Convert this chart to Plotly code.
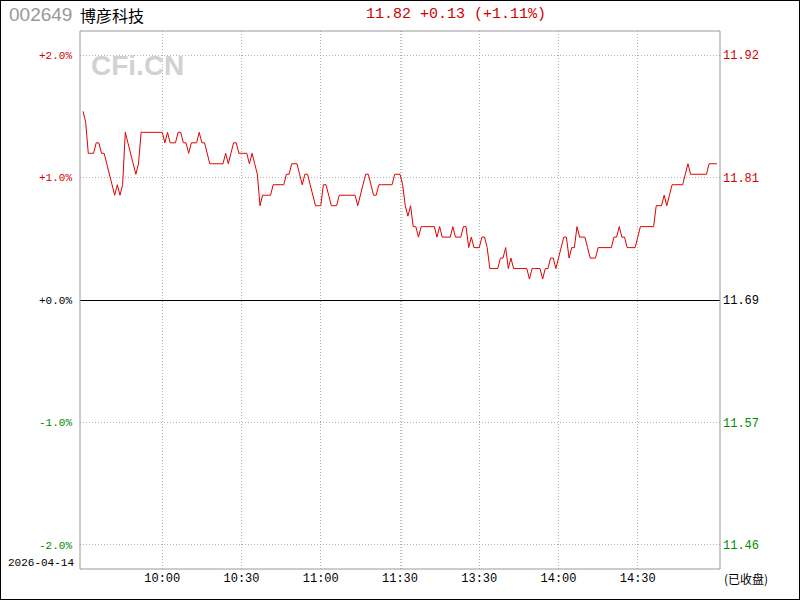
import plotly.graph_objects as go

# ---------------- data ----------------
stock_code = "002649"
stock_name = "博彦科技"
trade_date = "2026-04-14"
prev_close = 11.69
last_price = 11.82

# one price per minute: 09:30-11:30 (121 pts) then 13:01-15:00 (120 pts)
prices = [
    11.87, 11.86, 11.83, 11.83, 11.83, 11.84, 11.84, 11.83, 11.83, 11.82,
    11.81, 11.80, 11.79, 11.80, 11.79, 11.80, 11.85, 11.84, 11.83, 11.82,
    11.81, 11.82, 11.85, 11.85, 11.85, 11.85, 11.85, 11.85, 11.85, 11.85,
    11.85, 11.84, 11.85, 11.84, 11.84, 11.84, 11.85, 11.85, 11.84, 11.84,
    11.83, 11.84, 11.84, 11.84, 11.85, 11.84, 11.84, 11.83, 11.82, 11.82,
    11.82, 11.82, 11.82, 11.82, 11.83, 11.82, 11.83, 11.84, 11.84, 11.83,
    11.83, 11.83, 11.83, 11.82, 11.83, 11.82, 11.81, 11.78, 11.79, 11.79,
    11.79, 11.79, 11.80, 11.80, 11.80, 11.80, 11.80, 11.81, 11.81, 11.82,
    11.82, 11.82, 11.81, 11.80, 11.81, 11.81, 11.80, 11.79, 11.78, 11.78,
    11.78, 11.80, 11.80, 11.79, 11.78, 11.78, 11.78, 11.79, 11.79, 11.79,
    11.79, 11.79, 11.79, 11.79, 11.78, 11.79, 11.80, 11.81, 11.81, 11.80,
    11.79, 11.79, 11.80, 11.80, 11.80, 11.80, 11.80, 11.80, 11.81, 11.81,
    11.81, 11.80, 11.78, 11.77, 11.78, 11.76, 11.76, 11.75, 11.76, 11.76,
    11.76, 11.76, 11.76, 11.76, 11.75, 11.76, 11.75, 11.75, 11.75, 11.75,
    11.76, 11.75, 11.75, 11.75, 11.76, 11.76, 11.74, 11.75, 11.74, 11.74,
    11.74, 11.75, 11.75, 11.74, 11.72, 11.72, 11.72, 11.72, 11.73, 11.73,
    11.74, 11.72, 11.73, 11.72, 11.72, 11.72, 11.72, 11.72, 11.72, 11.71,
    11.72, 11.72, 11.72, 11.72, 11.71, 11.72, 11.72, 11.73, 11.73, 11.72,
    11.73, 11.74, 11.75, 11.75, 11.73, 11.74, 11.74, 11.76, 11.75, 11.75,
    11.75, 11.74, 11.73, 11.73, 11.73, 11.74, 11.74, 11.74, 11.74, 11.74,
    11.74, 11.75, 11.75, 11.76, 11.75, 11.75, 11.74, 11.74, 11.74, 11.74,
    11.75, 11.76, 11.76, 11.76, 11.76, 11.76, 11.76, 11.78, 11.78, 11.78,
    11.79, 11.78, 11.79, 11.80, 11.80, 11.80, 11.80, 11.80, 11.81, 11.82,
    11.81, 11.81, 11.81, 11.81, 11.81, 11.81, 11.81, 11.82, 11.82, 11.82,
    11.82,
]
minutes = list(range(len(prices)))

time_tick_pos = [30, 60, 90, 120, 150, 180, 210]
time_tick_labels = ["10:00", "10:30", "11:00", "11:30", "13:30", "14:00", "14:30"]

pct_ticks = [2, 1, 0, -1, -2]
pct_labels = ["+2.0%", "+1.0%", "+0.0%", "-1.0%", "-2.0%"]

# ---------------- derived ----------------
pct = [(p - prev_close) / prev_close * 100 for p in prices]
price_labels = ["%.2f" % (prev_close * (1 + t / 100)) for t in pct_ticks]
chg = last_price - prev_close
chg_pct = chg / prev_close * 100

RED = "#d40000"
GREEN = "#008c00"
def tick_color(t):
    return RED if t > 0 else (GREEN if t < 0 else "#000000")

left_text = ['<span style="color:%s">%s</span>' % (tick_color(t), s) for t, s in zip(pct_ticks, pct_labels)]
right_text = ['<span style="color:%s">%s</span>' % (tick_color(t), s) for t, s in zip(pct_ticks, price_labels)]

L, R, T, B = 80, 80, 31, 31
W, H = 800, 600
PW, PH = W - L - R, H - T - B
def px(x):
    return (x - L) / PW
def py(y):
    return (H - B - y) / PH

yr = 2.196
xr = [-1.136, len(prices) - 1 + 1.136]
mono = "Liberation Mono"
GRID_C = "#b4b4b4"
GRID_D = "1px,2px"

fig = go.Figure()
fig.add_trace(go.Scatter(x=minutes, y=pct, mode="lines",
                         line=dict(color="#e00000", width=1),
                         hoverinfo="skip", showlegend=False))
fig.add_trace(go.Scatter(x=[None], y=[None], yaxis="y2", mode="lines",
                         hoverinfo="skip", showlegend=False))

grid = dict(showgrid=True, gridcolor=GRID_C, griddash=GRID_D, gridwidth=1)

fig.update_layout(
    width=W, height=H,
    margin=dict(l=L, r=R, t=T, b=B, pad=0, autoexpand=False),
    paper_bgcolor="white", plot_bgcolor="white",
    showlegend=False, hovermode=False,
    xaxis=dict(range=xr, tickmode="array", tickvals=time_tick_pos, ticktext=time_tick_labels,
               zeroline=False, showline=False, ticks="", automargin=False,
               tickfont=dict(family=mono, size=12, color="black"), **grid),
    yaxis=dict(range=[-yr, yr], tickmode="array", tickvals=pct_ticks, ticktext=left_text,
               zeroline=True, zerolinecolor="black", zerolinewidth=1,
               showline=False, ticks="", ticklabelstandoff=7, automargin=False,
               tickfont=dict(family=mono, size=11, color="black"), **grid),
    yaxis2=dict(range=[-yr, yr], overlaying="y", side="right", tickmode="array",
                tickvals=pct_ticks, ticktext=right_text, showgrid=False, zeroline=False,
                showline=False, ticks="", ticklabelstandoff=2, automargin=False,
                tickfont=dict(family=mono, size=12, color="black")),
)

shapes = [
    dict(type="rect", xref="paper", yref="paper", x0=0, x1=1, y0=0, y1=1,
         line=dict(color="#999999", width=1), layer="above"),
    dict(type="rect", xref="paper", yref="paper", x0=px(0), x1=px(W), y0=py(H), y1=py(0),
         line=dict(color="black", width=2)),
    dict(type="line", xref="x", yref="paper", x0=120.76, x1=120.76, y0=0, y1=1,
         line=dict(color=GRID_C, width=1, dash=GRID_D), layer="below"),
]
fig.update_layout(shapes=shapes)

ann = [
    dict(text="<b>CFi.CN</b>", x=px(89), y=py(65), xanchor="left", yanchor="middle",
         font=dict(family="Liberation Sans", size=28, color="#d2d2d2"), showarrow=False),
    dict(text=stock_code, x=px(7), y=py(15), xanchor="left", yanchor="middle",
         font=dict(family="Liberation Sans", size=19, color="#999999"), showarrow=False),
    dict(text=stock_name, x=px(78), y=py(15), xanchor="left", yanchor="middle",
         font=dict(family="Noto Sans CJK SC", size=16, color="black"), showarrow=False),
    dict(text="%.2f %+.2f (%+.2f%%)" % (last_price, chg, chg_pct), x=px(364), y=py(15),
         xanchor="left", yanchor="middle",
         font=dict(family=mono, size=15, color=RED), showarrow=False),
    dict(text=trade_date, x=px(6), y=py(563), xanchor="left", yanchor="middle",
         font=dict(family=mono, size=11, color="black"), showarrow=False),
    dict(text="(已收盘)", x=px(722), y=py(578), xanchor="left", yanchor="middle",
         font=dict(family="Noto Sans CJK SC", size=12, color="black"), showarrow=False),
]
for a in ann:
    a.update(xref="paper", yref="paper")
fig.update_layout(annotations=ann)

fig.write_html("out.html", config={"displayModeBar": False, "staticPlot": True},
               post_script="document.body.style.margin='0';document.body.style.overflow='hidden';")
